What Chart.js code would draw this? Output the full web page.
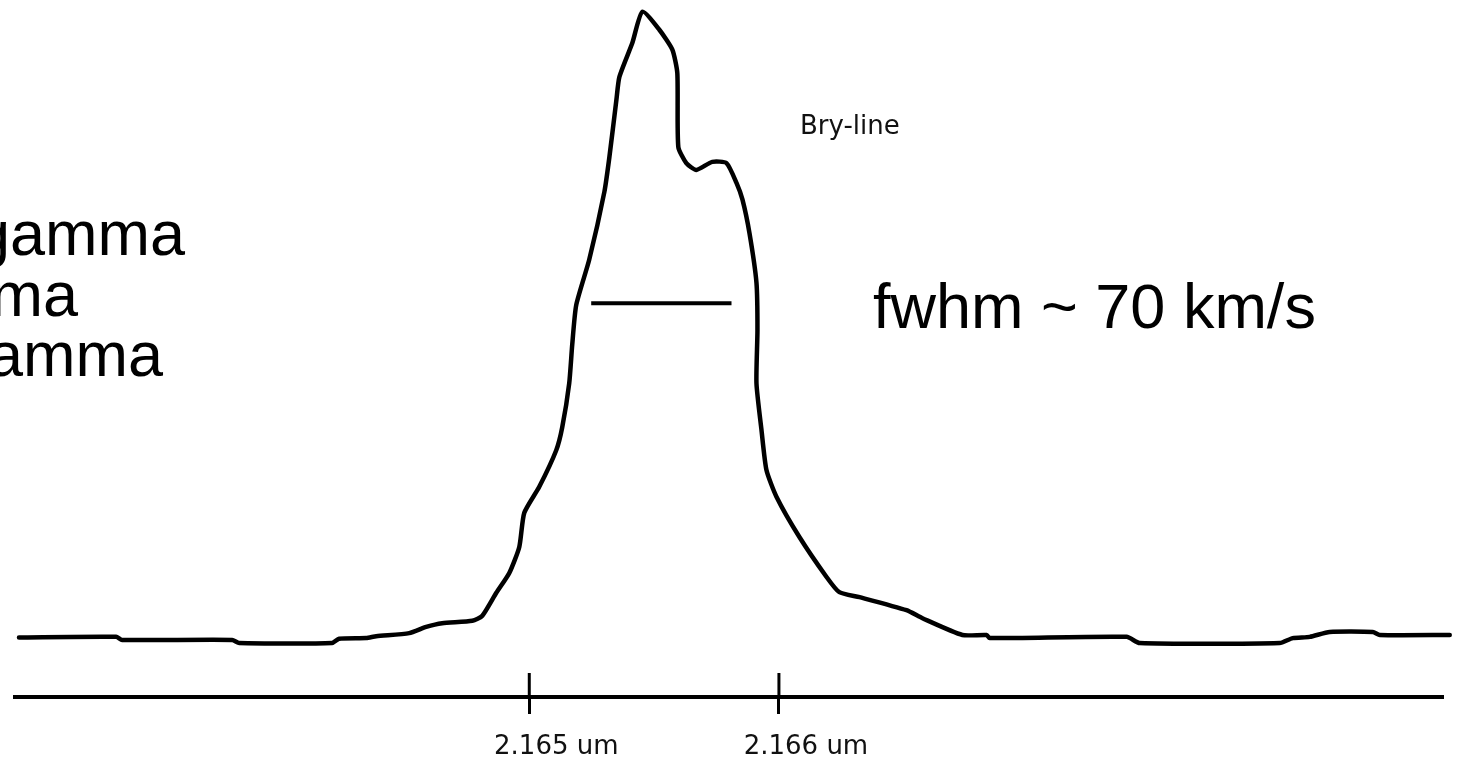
<!DOCTYPE html>
<html>
<head>
<meta charset="utf-8">
<title>Bry-line profile</title>
<script src="https://cdn.jsdelivr.net/npm/chart.js@4.4.1/dist/chart.umd.min.js"></script>
<style>
  html, body { margin: 0; padding: 0; background: #fff; }
  #wrap { width: 1459px; height: 761px; }
</style>
</head>
<body>
<div id="wrap"><canvas id="myChart" width="1459" height="761"></canvas></div>
<script>
// wavelength (um) and continuum-normalised flux
var wavelength = [
    2.162956, 2.163345, 2.163369, 2.163810, 2.163838, 2.164210, 2.164238, 2.164347,
    2.164387, 2.164519, 2.164587, 2.164651, 2.164772, 2.164812, 2.164868, 2.164920,
    2.164960, 2.164980, 2.165040, 2.165108, 2.165132, 2.165160, 2.165172, 2.165188,
    2.165240, 2.165301, 2.165321, 2.165349, 2.165361, 2.165413, 2.165453, 2.165521,
    2.165573, 2.165593, 2.165597, 2.165629, 2.165669, 2.165733, 2.165790, 2.165830,
    2.165854, 2.165882, 2.165910, 2.165914, 2.165910, 2.165930, 2.165950, 2.165990,
    2.166082, 2.166190, 2.166242, 2.166323, 2.166511, 2.166575, 2.166735, 2.166832,
    2.166844, 2.167393, 2.167445, 2.168006, 2.168058, 2.168126, 2.168206, 2.168379,
    2.168407, 2.168687
];
var flux = [
    0.996, 0.997, 0.992, 0.992, 0.987, 0.987, 0.994, 0.995,
    0.998, 1.003, 1.013, 1.019, 1.023, 1.031, 1.068, 1.100,
    1.142, 1.197, 1.239, 1.298, 1.335, 1.406, 1.468, 1.532,
    1.605, 1.715, 1.771, 1.863, 1.900, 1.955, 2.005, 1.976,
    1.944, 1.906, 1.787, 1.761, 1.750, 1.763, 1.761, 1.729,
    1.702, 1.648, 1.568, 1.492, 1.406, 1.331, 1.266, 1.223,
    1.158, 1.094, 1.069, 1.061, 1.040, 1.027, 1.000, 1.000,
    0.995, 0.997, 0.987, 0.987, 0.995, 0.997, 1.005, 1.005,
    1.000, 1.000
];
// half-maximum bar
var fwhmWave = [2.165248, 2.165810];
var fwhmLevel = 1.535;
// axis ticks
var tickValues = [2.165, 2.166];
var tickLabels = ['2.165 um', '2.166 um'];

var profile = wavelength.map(function (w, i) { return { x: w, y: flux[i] }; });
var fwhmBar = fwhmWave.map(function (w) { return { x: w, y: fwhmLevel }; });

// free text on the figure
var notes = {
    id: 'notes',
    afterDraw: function (chart) {
        var c = chart.ctx;
        var xs = chart.scales.x;
        var axisY = chart.chartArea.bottom;
        c.save();
        // upper half of the tick marks
        c.strokeStyle = '#000';
        c.lineWidth = 3;
        tickValues.forEach(function (v) {
            var px = xs.getPixelForValue(v);
            c.beginPath();
            c.moveTo(px, axisY);
            c.lineTo(px, axisY - 24);
            c.stroke();
        });
        c.fillStyle = '#000';
        c.font = '63px "Liberation Sans", Arial, sans-serif';
        c.textBaseline = 'alphabetic';
        c.textAlign = 'left';
        c.fillText('fwhm ~ 70 km/s', 873, 328);
        c.textAlign = 'right';
        c.fillText('Br gamma', 185, 255);
        c.fillText('gamma', 78, 316);
        c.fillText('Br gamma', 163, 376);
        c.textAlign = 'left';
        c.fillStyle = '#111';
        c.font = '26px "DejaVu Sans", sans-serif';
        c.fillText('Bry-line', 800, 134);
        c.restore();
    }
};

var ctx = document.getElementById('myChart').getContext('2d');
var myChart = new Chart(ctx, {
    type: 'line',
    data: {
        datasets: [{
            label: 'Bry-line',
            data: profile,
            borderColor: '#000',
            borderWidth: 4.5,
            pointRadius: 0,
            borderJoinStyle: 'round',
            borderCapStyle: 'round',
            tension: 0.2,
            clip: false
        },
        {
            label: 'fwhm',
            data: fwhmBar,
            borderColor: '#000',
            borderWidth: 4,
            pointRadius: 0,
            clip: false
        }]
    },
    options: {
        responsive: false,
        animation: false,
        layout: {
            autoPadding: false,
            padding: { left: 15, right: 16, top: 0, bottom: 0 }
        },
        plugins: {
            legend: { display: false },
            tooltip: { enabled: false }
        },
        scales: {
            x: {
                type: 'linear',
                min: 2.16294,
                max: 2.16866,
                afterBuildTicks: function (scale) {
                    scale.ticks = tickValues.map(function (v) { return { value: v }; });
                },
                afterFit: function (scale) {
                    scale.height = 64;
                },
                border: { display: true, color: '#000', width: 4 },
                grid: {
                    drawOnChartArea: false,
                    drawTicks: true,
                    tickLength: 17,
                    tickColor: '#000',
                    tickWidth: 3
                },
                ticks: {
                    autoSkip: false,
                    maxRotation: 0,
                    padding: 18,
                    labelOffset: 27,
                    color: '#111',
                    font: { family: 'DejaVu Sans', size: 26 },
                    callback: function (value, index) { return tickLabels[index]; }
                }
            },
            y: {
                display: false,
                min: 0.9,
                max: 2.024
            }
        }
    },
    plugins: [notes]
});
</script>
</body>
</html>
